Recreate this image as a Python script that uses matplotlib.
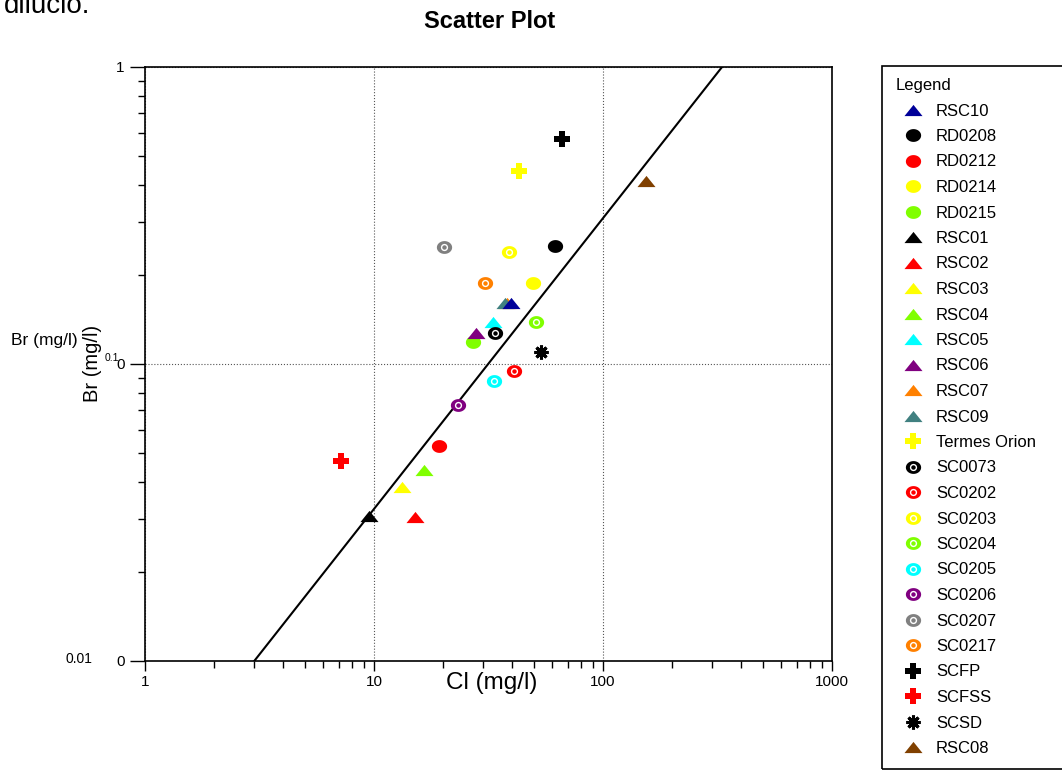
import numpy as np
import matplotlib
matplotlib.use("Agg")
import matplotlib.pyplot as plt
from matplotlib.lines import Line2D
from matplotlib.patches import Rectangle
from matplotlib.ticker import FixedLocator, FixedFormatter, LogLocator, NullFormatter

plt.rcParams["font.family"] = ["Liberation Sans", "DejaVu Sans"]

# sample points: chloride vs bromide (mg/l)
labels = ["RSC10", "RD0208", "RD0212", "RD0214", "RD0215", "RSC01", "RSC02", "RSC03",
          "RSC04", "RSC05", "RSC06", "RSC07", "RSC09", "Termes Orion", "SC0073", "SC0202",
          "SC0203", "SC0204", "SC0205", "SC0206", "SC0207", "SC0217", "SCFP", "SCFSS",
          "SCSD", "RSC08"]
cl = [39.6, 61.7, 19.2, 49.5, 27.1, 9.5, 15.1, 13.3,
      16.5, 33.0, 27.8, 38.2, 37.3, 43.0, 33.8, 40.9,
      38.7, 50.8, 33.3, 23.2, 20.2, 30.6, 66.0, 7.16,
      53.6, 153.6]
br = [0.160, 0.249, 0.053, 0.187, 0.119, 0.0308, 0.0305, 0.0385,
      0.044, 0.139, 0.127, 0.161, 0.160, 0.447, 0.127, 0.0947,
      0.238, 0.139, 0.0877, 0.0728, 0.248, 0.187, 0.574, 0.0471,
      0.110, 0.413]
colors = ["#000099", "#000000", "#ff0000", "#ffff00", "#80ff00", "#000000", "#ff0000", "#ffff00",
          "#80ff00", "#00ffff", "#800080", "#ff8000", "#408080", "#ffff00", "#000000", "#ff0000",
          "#ffff00", "#80ff00", "#00ffff", "#800080", "#808080", "#ff8000", "#000000", "#ff0000",
          "#000000", "#804000"]
kinds = ["tri", "dot", "dot", "dot", "dot", "tri", "tri", "tri",
         "tri", "tri", "tri", "tri", "tri", "plus", "ring", "ring",
         "ring", "ring", "ring", "ring", "ring", "ring", "plus", "plus",
         "star", "tri"]

# reference line
line_cl = [3.0, 331.0]
line_br = [0.01, 1.0]

TRI = [(-1, -0.62), (1, -0.62), (0, 0.62), (-1, -0.62)]
_t = np.linspace(0, 2 * np.pi, 40)
ELL = list(zip(np.cos(_t), 0.84 * np.sin(_t)))


def styles(kind, c):
    if kind == "tri":
        return [dict(marker=TRI, ms=13, color=c, mec=c, mew=0)]
    if kind == "dot":
        return [dict(marker=ELL, ms=11, color=c, mec=c, mew=0)]
    if kind == "ring":
        return [dict(marker=ELL, ms=11, color=c, mec=c, mew=0),
                dict(marker="o", ms=4.2, mfc="none", mec="white", mew=1.0)]
    if kind == "plus":
        return [dict(marker="P", ms=11.5, color=c, mec=c, mew=0)]
    return [dict(marker=(8, 2, 0), ms=10, color=c, mew=2.2)]


W, H = 1062, 771
fig = plt.figure(figsize=(W / 100, H / 100), dpi=100)
ax = fig.add_axes([145 / W, 1 - 661 / H, (832 - 145) / W, (661 - 67) / H])
ax.set_xscale("log"); ax.set_yscale("log")
ax.set_xlim(1, 1000); ax.set_ylim(0.01, 1)

ax.grid(True, which="major", ls=":", color="#555555", lw=0.8)
ax.plot(line_cl, line_br, color="black", lw=1.5, zorder=3)

order = list(range(1, len(labels))) + [0]
for i in order:
    for st in styles(kinds[i], colors[i]):
        ax.plot(cl[i], br[i], ls="none", zorder=4, **st)

ax.xaxis.set_major_locator(FixedLocator([1, 10, 100, 1000]))
ax.xaxis.set_major_formatter(FixedFormatter(["1", "10", "100", "1000"]))
ax.xaxis.set_minor_locator(LogLocator(base=10, subs=np.arange(2, 10)))
ax.xaxis.set_minor_formatter(NullFormatter())
ax.yaxis.set_major_locator(FixedLocator([0.01, 0.1, 1]))
ax.yaxis.set_major_formatter(FixedFormatter(["0", "0", "1"]))
ax.yaxis.set_minor_locator(LogLocator(base=10, subs=np.arange(2, 10)))
ax.yaxis.set_minor_formatter(NullFormatter())
ax.tick_params(axis="both", which="both", direction="out", top=False, right=False,
               labelsize=11, width=1)
ax.tick_params(axis="y", which="major", length=11, pad=3.5)
ax.tick_params(axis="x", which="major", length=7, pad=3)
ax.tick_params(which="minor", length=5)
for s in ax.spines.values():
    s.set_linewidth(1.2)

ax.set_xlabel("Cl (mg/l)", fontsize=17.5, va="center")
ax.xaxis.set_label_coords((492 - 145) / 687, (661 - 683) / 594)
ax.set_ylabel("Br (mg/l)", fontsize=14.5, va="center")
ax.yaxis.set_label_coords((93 - 145) / 687, (661 - 363) / 594)

fig.text(4 / W, 1 - 13 / H, "dilució.", fontsize=20, va="baseline", ha="left")
fig.text(490 / W, 1 - 21 / H, "Scatter Plot", fontsize=17, weight="bold", ha="center", va="center")
fig.text(11 / W, 1 - 340 / H, "Br (mg/l)", fontsize=12.5, va="center", ha="left")
fig.text(105 / W, 1 - 358 / H, "0.1", fontsize=7.5, va="center", ha="left")
fig.text(66 / W, 1 - 659 / H, "0.01", fontsize=10, va="center", ha="left")

handles = [tuple(Line2D([], [], ls="none", **st) for st in styles(k, c))
           for k, c in zip(kinds, colors)]
fig.legend(handles, labels, loc="upper left", bbox_to_anchor=(896 / W, 1 - 78 / H),
           frameon=False, borderpad=0, borderaxespad=0, title="Legend", title_fontsize=12,
           fontsize=12, handlelength=2.0, handletextpad=0.4, labelspacing=0.63,
           alignment="left")
fig.add_artist(Rectangle((882 / W, 1 - 769 / H), 200 / W, (769 - 66) / H,
                         transform=fig.transFigure, fill=False, ec="black", lw=1.2))

fig.savefig("out.png", dpi=100)
